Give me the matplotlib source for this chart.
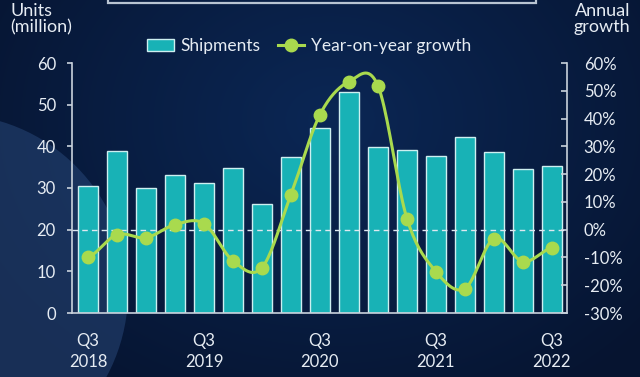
import numpy as np
import matplotlib
matplotlib.use("Agg")
import matplotlib.pyplot as plt
from matplotlib.patches import Circle, Rectangle, Patch
from matplotlib.lines import Line2D

quarters = ["Q3 2018", "Q4 2018", "Q1 2019", "Q2 2019", "Q3 2019", "Q4 2019",
            "Q1 2020", "Q2 2020", "Q3 2020", "Q4 2020", "Q1 2021", "Q2 2021",
            "Q3 2021", "Q4 2021", "Q1 2022", "Q2 2022", "Q3 2022"]
shipments = [30.5, 38.9, 30.1, 33.1, 31.3, 34.7, 26.1, 37.4, 44.4, 53.0,
             39.9, 39.1, 37.8, 42.2, 38.7, 34.6, 35.3]
growth = [-10.0, -1.8, -2.9, 1.8, 2.2, -11.2, -13.7, 12.6, 41.4, 53.3,
          51.8, 4.0, -15.1, -21.2, -3.2, -11.5, -6.5]
tick_idx = [0, 4, 8, 12, 16]
tick_labels = ["Q3\n2018", "Q3\n2019", "Q3\n2020", "Q3\n2021", "Q3\n2022"]
left_ticks = [0, 10, 20, 30, 40, 50, 60]
right_ticks = [-30, -20, -10, 0, 10, 20, 30, 40, 50, 60]

BAR = "#18b2b6"
BAR_EDGE = "#cdeff0"
LINE = "#a9da4e"
TXT = "#e6ecf3"
AXC = "#c9d2dc"
FONT = ["Lato", "DejaVu Sans"]
plt.rcParams["font.family"] = FONT

fig = plt.figure(figsize=(6.4, 3.77), dpi=100)

# background: radial gradient
bg = fig.add_axes([0, 0, 1, 1], zorder=-10)
bg.set_axis_off()
H, W = 377, 640
yy, xx = np.mgrid[0:H, 0:W]
d = np.sqrt(((xx - 330) / 420.0) ** 2 + ((yy - 120) / 330.0) ** 2)
c_in = np.array([0x0b, 0x27, 0x55]) / 255.0
c_out = np.array([0x06, 0x14, 0x30]) / 255.0
t = np.clip(d, 0, 1)[..., None]
img = c_in * (1 - t) + c_out * t
bg.imshow(img, extent=[0, W, H, 0], aspect="auto")
bg.add_patch(Circle((-50, 292), 178, color="#2a4a7c", alpha=0.5, lw=0))
bg.add_patch(Rectangle((108, -20), 428, 23, fill=False, ec="#b8c4d2", lw=1.6))
bg.set_xlim(0, W)
bg.set_ylim(H, 0)

ax = fig.add_axes([72 / 640, 1 - 313 / 377, (567 - 72) / 640, (313 - 63) / 377])
ax.set_facecolor("none")
x = np.arange(len(quarters))
ax.bar(x, shipments, width=0.67, color=BAR, edgecolor=BAR_EDGE, linewidth=1.0, zorder=2)
ax.set_xlim(-0.55, len(quarters) - 1 + 0.52)
ax.set_ylim(0, 60)
ax.set_yticks(left_ticks)
ax.set_xticks(tick_idx)
ax.set_xticklabels(tick_labels, linespacing=1.38)
for s in ["top", "right"]:
    ax.spines[s].set_visible(False)
for s in ["left", "bottom"]:
    ax.spines[s].set_color(AXC)
    ax.spines[s].set_linewidth(1.2)
ax.tick_params(axis="y", colors=AXC, labelcolor=TXT, labelsize=12, length=3.6, width=1.2, pad=8)
ax.tick_params(axis="x", length=0, labelcolor=TXT, labelsize=12, pad=14.5)

ax2 = ax.twinx()
ax2.set_ylim(-30, 60)
ax2.set_yticks(right_ticks)
ax2.set_yticklabels([f"{v}%" for v in right_ticks])
for s in ["top", "left", "bottom"]:
    ax2.spines[s].set_visible(False)
ax2.spines["right"].set_color(AXC)
ax2.spines["right"].set_linewidth(1.2)
ax2.tick_params(axis="y", direction="in", colors=AXC, labelcolor=TXT, labelsize=12,
                length=4, width=1.2, pad=12)
ax2.axhline(0, color="#dfe8f0", lw=1.0, ls=(0, (4, 3)), zorder=3)

# smooth curve (Catmull-Rom) through the data points
g = np.array(growth, dtype=float)
xs, ys = [], []
P = np.concatenate([[g[0]], g, [g[-1]]])
X = np.concatenate([[x[0] - 1], x, [x[-1] + 1]]).astype(float)
tt = np.linspace(0, 1, 20)


def cr(a0, a1, a2, a3):
    return 0.5 * ((2 * a1) + (-a0 + a2) * tt +
                  (2 * a0 - 5 * a1 + 4 * a2 - a3) * tt ** 2 +
                  (-a0 + 3 * a1 - 3 * a2 + a3) * tt ** 3)


for i in range(1, len(P) - 2):
    xs.append(cr(X[i - 1], X[i], X[i + 1], X[i + 2]))
    ys.append(cr(P[i - 1], P[i], P[i + 1], P[i + 2]))
ax2.plot(np.concatenate(xs), np.concatenate(ys), color=LINE, lw=2.2, zorder=4)
ax2.plot(x, g, ls="none", marker="o", ms=9, color=LINE, mec=LINE, zorder=5)

fig.text(10 / 640, 1 - 3 / 377, "Units\n(million)", ha="left", va="top", color=TXT,
         fontsize=13, linespacing=1.0)
fig.text(630 / 640, 1 - 3 / 377, "Annual\ngrowth", ha="right", va="top", color=TXT,
         fontsize=13, linespacing=1.0)

handles = [Patch(facecolor=BAR, edgecolor=BAR_EDGE, lw=1.0),
           Line2D([0], [0], color=LINE, lw=2.2, marker="o", ms=9, mec=LINE)]
fig.legend(handles, ["Shipments", "Year-on-year growth"], loc="center",
           bbox_to_anchor=(309 / 640, 1 - 46 / 377), ncol=2, frameon=False,
           fontsize=12.5, labelcolor=TXT, handlelength=1.55, handletextpad=0.35,
           columnspacing=1.0)

fig.savefig("out.png", dpi=100)
